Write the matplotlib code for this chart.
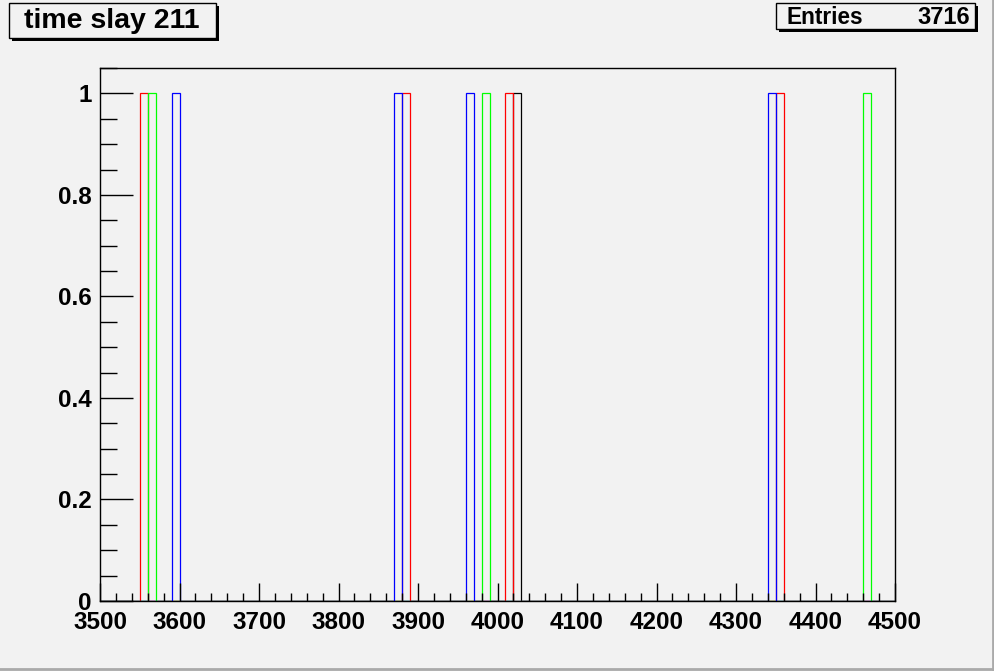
import numpy as np
import matplotlib
matplotlib.use("Agg")
import matplotlib.pyplot as plt
from matplotlib.patches import Rectangle
from matplotlib.ticker import MultipleLocator, FixedLocator

# ---- data ----
bin_edges_lo = 3500
bin_edges_hi = 4500
bin_width = 10
black_bins = [4020]
red_bins = [3550, 3880, 4010, 4350]
green_bins = [3560, 3980, 4460]
blue_bins = [3590, 3870, 3960, 4340]
series_colors = ["black", "red", "#00ff00", "blue"]
title_text = "time slay 211"
entries = 3716
x_ticks = [3500, 3600, 3700, 3800, 3900, 4000, 4100, 4200, 4300, 4400, 4500]
y_ticks = [0, 0.2, 0.4, 0.6, 0.8, 1.0]
y_tick_labels = ["0", "0.2", "0.4", "0.6", "0.8", "1"]

plt.rcParams['font.family'] = ['Liberation Sans', 'DejaVu Sans']
plt.rcParams['font.weight'] = 'bold'

W, H = 995, 671
fig = plt.figure(figsize=(W / 100, H / 100), dpi=100, facecolor="#f2f2f2")
ax = fig.add_axes([100 / W, 1 - 601 / H, 795 / W, 533 / H])
ax.set_facecolor("#f2f2f2")

edges = np.arange(bin_edges_lo, bin_edges_hi + bin_width, bin_width)
for bins, col in zip([black_bins, red_bins, green_bins, blue_bins], series_colors):
    counts = np.zeros(len(edges) - 1)
    for b in bins:
        counts[int((b - bin_edges_lo) // bin_width)] += 1
    ax.stairs(counts, edges, baseline=0, fill=False, color=col, lw=0.9)

ax.set_xlim(3500, 4500)
ax.set_ylim(0, 1.05)
for s in ax.spines.values():
    s.set_linewidth(1.0)
    s.set_color("black")

ax.xaxis.set_major_locator(FixedLocator(x_ticks))
ax.xaxis.set_minor_locator(MultipleLocator(20))
ax.set_xticklabels([str(t) for t in x_ticks])
ax.yaxis.set_major_locator(FixedLocator(y_ticks))
ax.yaxis.set_minor_locator(MultipleLocator(0.05))
ax.set_yticklabels(y_tick_labels)

ax.tick_params(axis='x', which='major', direction='in', length=13, width=1, labelsize=17.5, pad=7, top=False)
ax.tick_params(axis='x', which='minor', direction='in', length=6, width=1, top=False)
ax.tick_params(axis='y', which='major', direction='in', length=24, width=1, labelsize=17.5, pad=6, right=False)
ax.tick_params(axis='y', which='minor', direction='in', length=12, width=1, right=False)
for lab in ax.get_xticklabels() + ax.get_yticklabels():
    lab.set_fontweight('bold')


def box(x0, y0, x1, y1):
    # shadow
    fig.patches.append(Rectangle((x0 / W + 3 / W, 1 - (y1 + 3) / H), (x1 - x0) / W, (y1 - y0) / H,
                                 transform=fig.transFigure, facecolor="black", edgecolor="none", zorder=1))
    fig.patches.append(Rectangle((x0 / W, 1 - y1 / H), (x1 - x0) / W, (y1 - y0) / H,
                                 transform=fig.transFigure, facecolor="#f2f2f2", edgecolor="black", lw=1, zorder=2))


box(9, 3, 216, 38)
fig.text(24 / W, 1 - 21 / H, title_text, fontsize=20.5, fontweight='bold', va='center', ha='left', zorder=3)
box(776, 3, 975, 29)
fig.text(787 / W, 1 - 17 / H, "Entries", fontsize=16.3, fontweight='bold', va='center', ha='left', zorder=3)
fig.text(970 / W, 1 - 17 / H, str(entries), fontsize=17, fontweight='bold', va='center', ha='right', zorder=3)

# canvas border (right and bottom)
fig.add_artist(plt.Line2D([1 - 2 / W, 1 - 2 / W], [2 / H, 1], transform=fig.transFigure, color="#aaaaaa", lw=2))
fig.add_artist(plt.Line2D([0, 1 - 2 / W], [2 / H, 2 / H], transform=fig.transFigure, color="#aaaaaa", lw=2))

fig.savefig("out.png", dpi=100, facecolor=fig.get_facecolor())
